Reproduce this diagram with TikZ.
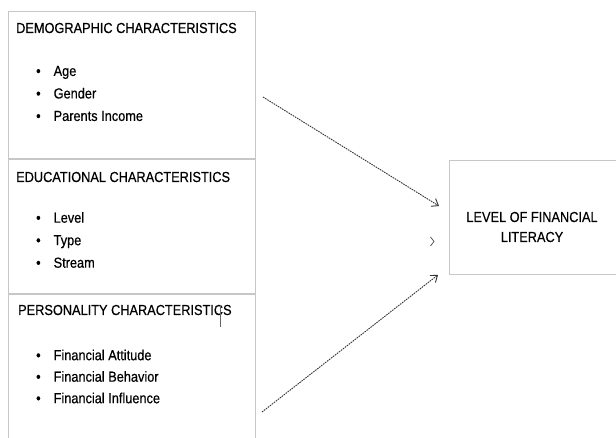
\documentclass[tikz,border=0pt]{standalone}
\usepackage{fontspec}
\setmainfont{Liberation Sans}[FakeStretch=0.88,FakeBold=0.5]
\usetikzlibrary{arrows.meta,calc,positioning}
\tikzset{
  boxline/.style={draw=black!22, line width=0.9pt, inner sep=0pt},
  headtext/.style={anchor=west, inner sep=0pt, font=\fontsize{14.5}{17}\selectfont},
  itemtext/.style={anchor=west, inner sep=0pt, align=left, font=\fontsize{14.5}{22.5}\selectfont},
  link/.style={draw=black!80, line width=0.9pt, dash pattern=on 1.6pt off 0.9pt,
    -{Straight Barb[length=6pt,width=9pt]}}
}

\begin{document}
\begin{tikzpicture}[x=1pt,y=-1pt]
\useasboundingbox (0,0) rectangle (616,437);
% left boxes
\node[boxline, anchor=north west, minimum width=247pt, minimum height=147pt] (demo) at (8,11) {};
\node[boxline, anchor=north west, minimum width=247pt, minimum height=134pt] (educ) at (demo.south west) {};
\node[boxline, anchor=north west, minimum width=247pt, minimum height=150pt] (pers) at (educ.south west) {};
% target box
\node[boxline, anchor=north west, minimum width=180pt, minimum height=114pt] (lit) at (449,160) {};

% headings and items
\node[headtext] (demohead) at (16,28) {DEMOGRAPHIC CHARACTERISTICS};
\node[itemtext] (demolist) at (36,93.5) {\textbullet\hspace{13pt}Age\\
\textbullet\hspace{13pt}Gender\\
\textbullet\hspace{13pt}Parents Income};
\node[headtext] (educhead) at (16,177) {EDUCATIONAL CHARACTERISTICS};
\node[itemtext] (educlist) at (36,240) {\textbullet\hspace{13pt}Level\\
\textbullet\hspace{13pt}Type\\
\textbullet\hspace{13pt}Stream};
\node[headtext] (pershead) at (18,310) {PERSONALITY CHARACTERISTICS};
\node[itemtext, font=\fontsize{14.5}{21.5}\selectfont] (perslist) at (36,376.5) {\textbullet\hspace{13pt}Financial Attitude\\
\textbullet\hspace{13pt}Financial Behavior\\
\textbullet\hspace{13pt}Financial Influence};
\draw[black!60, line width=0.6pt] (220,305) -- (220,327);

\node[align=center, inner sep=0pt, font=\fontsize{14.5}{20}\selectfont] (littext) at (532,227) {LEVEL OF FINANCIAL\\LITERACY};

% connectors
\coordinate (s1) at (263,97);
\coordinate (s3) at (262,412);
\coordinate (e1) at ($(lit.north west)+(-10,46)$);
\coordinate (e2) at ($(lit.west)+(-15,24)$);
\coordinate (e3) at ($(lit.south west)+(-11,0)$);
\draw[link] (s1) -- (e1);
\draw[link] (s3) -- (e3);
\draw[black!65, line width=0.8pt] ($(e2)+(-3.5,-4.5)$) -- (e2) -- ($(e2)+(-3.5,4.5)$);
\end{tikzpicture}
\end{document}
